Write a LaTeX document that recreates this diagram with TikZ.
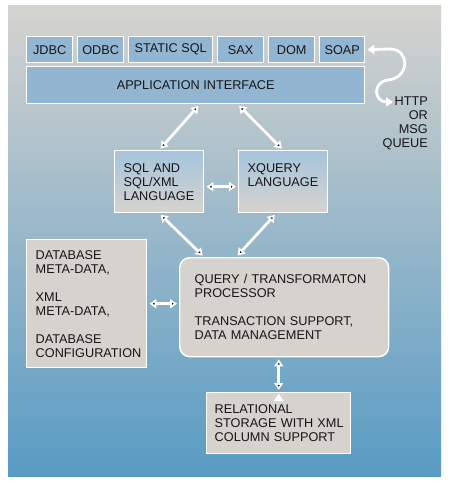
\documentclass[tikz,border=0pt]{standalone}
\usepackage{fontspec}
\setmainfont{Liberation Sans}
\usetikzlibrary{positioning,arrows.meta}
\definecolor{panelgray}{RGB}{213,211,207}
\definecolor{panelmid}{RGB}{150,181,203}
\definecolor{panelblue}{RGB}{88,155,196}
\definecolor{apiblue}{RGB}{146,182,210}
\definecolor{boxgray}{RGB}{214,211,207}
\definecolor{langtop}{RGB}{166,196,220}
\definecolor{inktext}{RGB}{22,22,24}

\begin{document}
\begin{tikzpicture}[x=1pt,y=-1pt,
    font=\fontsize{12.7}{14}\selectfont, text=inktext,
    api/.style={draw=white,line width=1.4pt,fill=apiblue,minimum height=26pt,inner sep=0pt,anchor=north west},
    gbox/.style={draw=white,line width=1.4pt,fill=boxgray,align=left,inner ysep=0pt,anchor=north west},
    lang/.style={draw=white,line width=1.4pt,top color=langtop,bottom color=boxgray,align=left,inner ysep=0pt,anchor=north west},
    link/.style={draw=white,line width=2.8pt,shorten <=2pt,shorten >=2pt,
        {Triangle[width=9pt,length=7pt]}-{Triangle[width=9pt,length=7pt]}}]
    \useasboundingbox (0,0) rectangle (451,482);
    \fill[white] (0,0) rectangle (451,482);
    \shade[top color=panelgray,middle color=panelmid,bottom color=panelblue] (8,5) rectangle (441,476);

    % interfaces
    \node[api,minimum width=46pt] (jdbc) at (26,36) {JDBC};
    \node[api,minimum width=46pt] (odbc) [right=3.6pt of jdbc] {ODBC};
    \node[api,minimum width=84pt] (ssql) [right=3.6pt of odbc] {STATIC SQL};
    \node[api,minimum width=46pt] (sax) [right=3.6pt of ssql] {SAX};
    \node[api,minimum width=46pt] (dom) [right=3.6pt of sax] {DOM};
    \node[api,minimum width=45pt] (soap) [right=3.6pt of dom] {SOAP};
    \node[api,minimum width=338pt,minimum height=37pt] (app) at (26,66) {APPLICATION INTERFACE};
    \node[align=right,anchor=north east,inner sep=0pt] (http) at (428,97) {HTTP\\OR\\MSG\\QUEUE};
    \coordinate (httpin) at (393,102);

    % languages
    \node[lang,inner xsep=9pt,text width=71pt,minimum height=62pt] (sql) at (114,150) {SQL AND\\SQL/XML\\LANGUAGE};
    \node[lang,inner xsep=9pt,text width=71pt,minimum height=62pt] (xq) at (238,150) {XQUERY\\LANGUAGE\\~};

    % engine
    \node[gbox,inner xsep=9pt,text width=102pt,minimum height=128pt] (meta) at (26,239)
        {DATABASE\\META-DATA,\\[14pt]XML\\META-DATA,\\[14pt]DATABASE\\CONFIGURATION};
    \node[gbox,rounded corners=10pt,inner xsep=15pt,text width=179pt,minimum height=99pt] (query) at (179,257)
        {QUERY / TRANSFORMATON\\PROCESSOR\\[14pt]TRANSACTION SUPPORT,\\DATA MANAGEMENT};
    \node[gbox,inner xsep=8pt,text width=128pt,minimum height=61pt] (rel) at (206,392)
        {RELATIONAL\\\mbox{STORAGE WITH XML}\\COLUMN SUPPORT};

    \path[link]
        ([xshift=4pt]app.south) edge (sql.north)
        ([xshift=42pt]app.south) edge (xq.north)
        ([yshift=-5pt]sql.east) edge ([yshift=-5pt]xq.west)
        (sql.south) edge ([xshift=-80pt]query.north)
        ([xshift=-7pt]xq.south) edge ([xshift=-48pt]query.north)
        (meta.east) edge (meta.east -| query.west)
        (rel.north) edge (rel.north |- query.south);
    \draw[link,shorten >=0pt] (soap.east) -- (390,49) .. controls (410,49) and (410,78) .. (388,80)
        .. controls (372,82) and (374,102) .. (httpin);
\end{tikzpicture}
\end{document}
